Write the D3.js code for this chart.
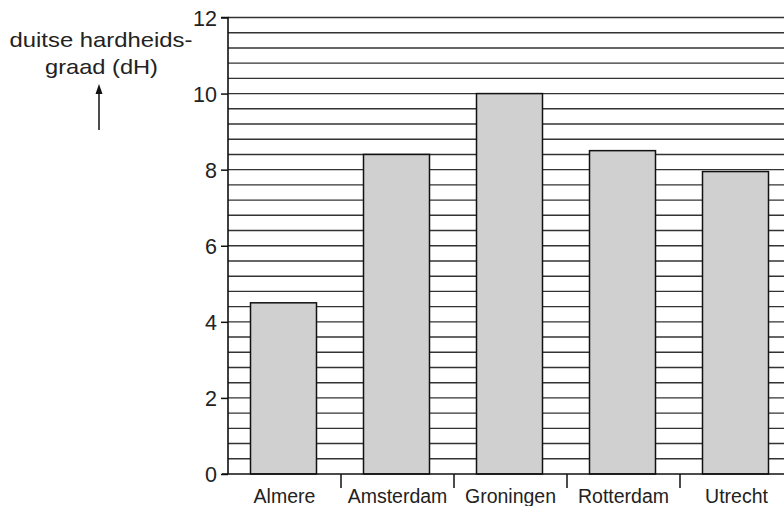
<!DOCTYPE html>
<html><head><meta charset="utf-8">
<script src="https://cdn.jsdelivr.net/npm/d3@7"></script>
<style>body{margin:0;background:#fff}svg{display:block}text{font-family:"Liberation Sans",Arial,sans-serif;fill:#222}</style>
</head><body><svg id="c" width="784" height="506"></svg>
<script>
const categories = ["Almere","Amsterdam","Groningen","Rotterdam","Utrecht"];
const values = [4.5, 8.4, 10.0, 8.5, 7.95];
const yTicks = [0,2,4,6,8,10,12];
const gridStep = 0.4;
const titleLines = ["duitse hardheids-","graad (dH)"];

const svg = d3.select("#c");
const x0 = 228, x1 = 228 + 113*5, yTop = 17.5, yBot = 474;
const x = d3.scaleBand().domain(categories).range([x0, x1]).paddingInner(0).paddingOuter(0);
const y = d3.scaleLinear().domain([0,12]).range([yBot, yTop]);

// gridlines
const grid = d3.range(1, 31).map(i => +(i*gridStep).toFixed(2));
svg.append("g").selectAll("line").data(grid).join("line")
  .attr("x1", x0).attr("x2", 784).attr("y1", d=>y(d)).attr("y2", d=>y(d))
  .attr("stroke","#333").attr("stroke-width",1.4);

// bars
const bw = 66, off = 22.5;
svg.append("g").selectAll("rect").data(values).join("rect")
  .attr("x",(d,i)=>x(categories[i])+off).attr("width",bw)
  .attr("y",d=>y(d)).attr("height",d=>yBot-y(d))
  .attr("fill","#d0d0d0").attr("stroke","#111").attr("stroke-width",1.5);

// y axis
const ya = svg.append("g").attr("transform",`translate(${x0},0)`)
  .call(d3.axisLeft(y).tickValues(yTicks).tickSize(7).tickPadding(4).tickFormat(d3.format("d")));
ya.select(".domain").attr("stroke","#111").attr("stroke-width",1.6).attr("d",`M-7,${yTop}H0V${yBot}`);
ya.selectAll(".tick line").attr("stroke","#111").attr("stroke-width",1.5);
ya.selectAll(".tick text").attr("font-size",21.5).attr("fill","#222").attr("font-family","Liberation Sans, Arial, sans-serif").attr("dy","0.36em");

// x axis
const xa = svg.append("g").attr("transform",`translate(0,${yBot})`)
  .call(d3.axisBottom(x).tickSize(0).tickPadding(15));
xa.select(".domain").attr("stroke","#111").attr("stroke-width",1.6).attr("d",`M222,0H784`);
xa.selectAll(".tick text").attr("font-size",19.5).attr("fill","#222").attr("font-family","Liberation Sans, Arial, sans-serif");
// separator ticks
xa.append("g").selectAll("line").data(categories.slice(1)).join("line")
  .attr("x1",d=>x(d)).attr("x2",d=>x(d)).attr("y1",0).attr("y2",14)
  .attr("stroke","#111").attr("stroke-width",1.5);

// title
svg.append("text").attr("x",101).attr("y",47).attr("text-anchor","middle").attr("font-size",21)
  .attr("textLength",183).attr("lengthAdjust","spacingAndGlyphs").text(titleLines[0]);
svg.append("text").attr("x",101.5).attr("y",74).attr("text-anchor","middle").attr("font-size",21)
  .attr("textLength",113).attr("lengthAdjust","spacingAndGlyphs").text(titleLines[1]);
// arrow
svg.append("line").attr("x1",99).attr("x2",99).attr("y1",130).attr("y2",90).attr("stroke","#111").attr("stroke-width",1.5);
svg.append("path").attr("d","M99,84 L95.5,94 L102.5,94 Z").attr("fill","#111");
</script></body></html>
